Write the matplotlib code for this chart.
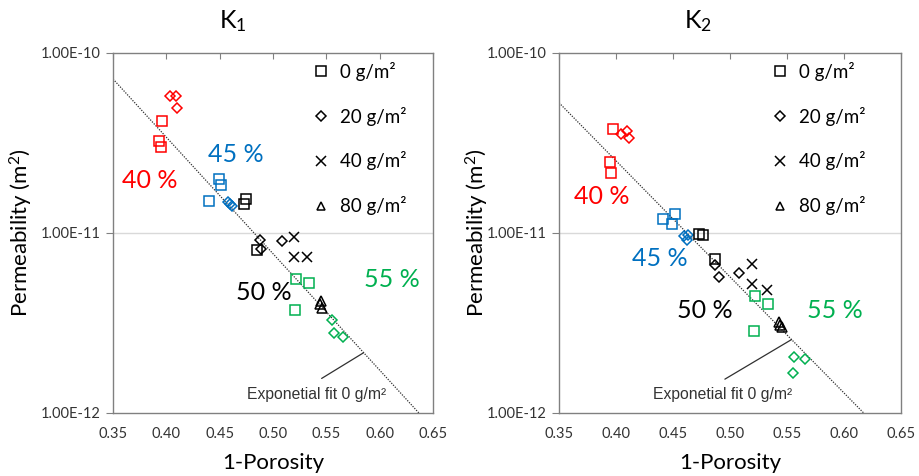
"""
Permeability vs 1-porosity, K1 and K2 side by side
"""
import matplotlib
matplotlib.use('Agg')
import matplotlib.pyplot as plt
from matplotlib.lines import Line2D
from matplotlib.ticker import FixedLocator, FuncFormatter, NullLocator
import numpy as np

plt.rcParams['font.family'] = ['Lato', 'DejaVu Sans']
plt.rcParams['mathtext.default'] = 'regular'

# porosity groups and areal weights
groups = ['40 %', '45 %', '50 %', '55 %']
group_colors = ['#ff0000', '#0070c0', '#000000', '#00b050']
weights = ['0 g/m²', '20 g/m²', '40 g/m²', '80 g/m²']
weight_markers = ['s', 'D', 'x', '^']

# K1 data points (1-porosity, permeability m2, group index, weight index)
k1_x = [0.396, 0.393, 0.395, 0.403, 0.409, 0.410,
        0.449, 0.451, 0.440, 0.458, 0.462, 0.460,
        0.475, 0.473, 0.485, 0.488, 0.489, 0.508,
        0.520, 0.520, 0.532, 0.545, 0.546, 0.544,
        0.522, 0.534, 0.521, 0.555, 0.557, 0.566]
k1_k = [4.2e-11, 3.25e-11, 3.0e-11, 5.8e-11, 5.8e-11, 4.95e-11,
        2.0e-11, 1.84e-11, 1.51e-11, 1.48e-11, 1.42e-11, 1.45e-11,
        1.55e-11, 1.45e-11, 8.0e-12, 9.2e-12, 8.1e-12, 9.0e-12,
        9.5e-12, 7.4e-12, 7.4e-12, 4.17e-12, 3.85e-12, 4.05e-12,
        5.57e-12, 5.25e-12, 3.73e-12, 3.29e-12, 2.79e-12, 2.63e-12]
k1_grp = [0, 0, 0, 0, 0, 0,
          1, 1, 1, 1, 1, 1,
          2, 2, 2, 2, 2, 2,
          2, 2, 2, 2, 2, 2,
          3, 3, 3, 3, 3, 3]
k1_w = [0, 0, 0, 1, 1, 1,
        0, 0, 0, 1, 1, 1,
        0, 0, 0, 1, 1, 1,
        2, 2, 2, 3, 3, 3,
        0, 0, 0, 1, 1, 1]

# K2 data points
k2_x = [0.397, 0.395, 0.396, 0.404, 0.410, 0.411,
        0.4415, 0.452, 0.449, 0.4596, 0.4635, 0.462,
        0.473, 0.4766, 0.4868, 0.4868, 0.4906, 0.5076,
        0.5196, 0.5196, 0.5322, 0.5433, 0.5453, 0.544,
        0.5219, 0.5336, 0.5211, 0.5564, 0.5658, 0.555]
k2_k = [3.77e-11, 2.47e-11, 2.16e-11, 3.55e-11, 3.69e-11, 3.36e-11,
        1.2e-11, 1.27e-11, 1.12e-11, 9.6e-12, 9.75e-12, 9.2e-12,
        9.84e-12, 9.8e-12, 7.15e-12, 6.6e-12, 5.68e-12, 6.03e-12,
        6.7e-12, 5.19e-12, 4.82e-12, 3.21e-12, 3.02e-12, 3.1e-12,
        4.47e-12, 4.03e-12, 2.86e-12, 2.04e-12, 2.0e-12, 1.66e-12]
k2_grp = k1_grp
k2_w = k1_w

# exponential fit K = A*exp(b*x) for 0 g/m2
k1_fit = (1.32e-8, -14.90)
k2_fit = (9.57e-9, -14.85)
k1_fit_pick = 0.585
k2_fit_pick = 0.554

x_ticks = [0.35, 0.40, 0.45, 0.50, 0.55, 0.60, 0.65]
y_ticks = [1e-12, 1e-11, 1e-10]


def draw_panel(ax, xs, ks, grp, wt, fit, pick, title, title_x, label_pos,
               note_pos, note_start, ylab_x):
	xs = np.array(xs)
	ks = np.array(ks)
	grp = np.array(grp)
	wt = np.array(wt)

	ax.axhline(1e-11, color='#d9d9d9', lw=1, zorder=0)

	xf = np.linspace(0.35, 0.65, 100)
	ax.plot(xf, fit[0] * np.exp(fit[1] * xf), color='#303030', lw=0.9,
	        linestyle=(0, (1, 1.1)), zorder=1)

	for gi in range(len(groups)):
		for wi in range(len(weights)):
			m = (grp == gi) & (wt == wi)
			if not m.any():
				continue
			mk = weight_markers[wi]
			size = {'s': 7.8, 'D': 5.4, 'x': 7, '^': 6.5}[mk]
			if mk == 'x':
				ax.plot(xs[m], ks[m], linestyle='none', marker=mk, ms=size,
				        color=group_colors[gi], mew=1.1, zorder=3)
			else:
				ax.plot(xs[m], ks[m], linestyle='none', marker=mk, ms=size,
				        mfc='none', mec=group_colors[gi], mew=1.1, zorder=3)

	for gi, (px, py) in enumerate(label_pos):
		ax.text(px, py, groups[gi], transform=ax.transAxes, color=group_colors[gi],
		        fontsize=18, ha='center', va='center')

	# fit annotation
	ax.annotate('', xy=(pick, fit[0] * np.exp(fit[1] * pick)), xycoords='data',
	            xytext=note_start, textcoords='axes fraction',
	            arrowprops=dict(arrowstyle='-', color='#303030', lw=0.9,
	                            shrinkA=0, shrinkB=0))
	ax.text(note_pos[0], note_pos[1], 'Exponetial fit 0 g/m²', transform=ax.transAxes,
	        fontsize=11.3, ha='center', va='center', color='#333333',
	        family=['Liberation Sans', 'DejaVu Sans'])

	ax.set_yscale('log')
	ax.set_xlim(0.35, 0.65)
	ax.set_ylim(1e-12, 1e-10)
	ax.xaxis.set_major_locator(FixedLocator(x_ticks))
	ax.xaxis.set_major_formatter(FuncFormatter(lambda v, p: f'{v:.2f}'))
	ax.yaxis.set_major_locator(FixedLocator(y_ticks))
	ax.yaxis.set_minor_locator(NullLocator())
	ax.yaxis.set_major_formatter(FuncFormatter(lambda v, p: f'{v:.2E}'))
	ax.tick_params(axis='x', bottom=False, top=True, direction='in', length=4,
	               color='#808080', labelsize=10.5, labelcolor='#333333', pad=10)
	ax.tick_params(axis='y', direction='out', length=5, color='#808080',
	               labelsize=10.5, labelcolor='#333333', pad=4)
	for s in ax.spines.values():
		s.set_color('#808080')
		s.set_linewidth(1)

	ax.set_xlabel('1-Porosity', fontsize=16)
	ax.xaxis.set_label_coords(0.5, -0.112)
	ax.set_ylabel('Permeability (m$^2$)', fontsize=16)
	ax.yaxis.set_label_coords(ylab_x, 0.5)

	handles = []
	for wi in range(len(weights)):
		mk = weight_markers[wi]
		if mk == 'x':
			h = Line2D([], [], linestyle='none', marker=mk, ms=6.5, color='black', mew=1.1)
		else:
			h = Line2D([], [], linestyle='none', marker=mk,
			           ms={'s': 6.5, 'D': 5, '^': 6}[mk],
			           mfc='none', mec='black', mew=1.1)
		handles.append(h)
	ax.legend(handles, weights, loc='upper left', bbox_to_anchor=(0.62, 0.975),
	          frameon=False, fontsize=13.5, handlelength=1.0, handletextpad=0.5,
	          labelspacing=1.37, borderpad=0, borderaxespad=0)

	ax.figure.text(title_x, 0.955, title, fontsize=18, ha='center', va='center')


fig = plt.figure(figsize=(9.2, 4.76), dpi=100)
ax1 = fig.add_axes([113 / 920, 63 / 476, 320 / 920, 360 / 476])
ax2 = fig.add_axes([559 / 920, 63 / 476, 342 / 920, 360 / 476])

draw_panel(ax1, k1_x, k1_k, k1_grp, k1_w, k1_fit, k1_fit_pick, 'K$_1$', 233 / 920,
           [(0.116, 0.647), (0.384, 0.717), (0.472, 0.336), (0.872, 0.372)],
           (0.636, 0.05), (0.652, 0.096), -0.245)
draw_panel(ax2, k2_x, k2_k, k2_grp, k2_w, k2_fit, k2_fit_pick, 'K$_2$', 698 / 920,
           [(0.126, 0.60), (0.295, 0.43), (0.427, 0.286), (0.807, 0.286)],
           (0.477, 0.05), (0.485, 0.094), -0.2)

fig.savefig('out.png', dpi=100)
